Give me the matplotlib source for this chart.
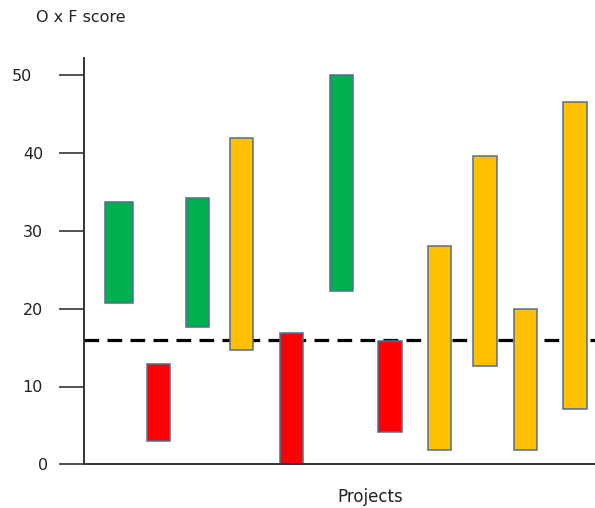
import matplotlib
matplotlib.use("Agg")
import matplotlib.pyplot as plt
from matplotlib.patches import Rectangle
from matplotlib.transforms import ScaledTranslation

# O x F score range (low .. high) per project, and its status colour
score_low = [20.7, 3.0, 17.7, 14.7, 0.0, 22.3, 4.2, 1.8, 12.6, 1.8, 7.1]
score_high = [33.7, 12.9, 34.2, 41.9, 16.9, 50.0, 15.8, 28.1, 39.6, 20.0, 46.6]
status = ["green", "red", "green", "amber", "red", "green",
          "red", "amber", "amber", "amber", "amber"]
threshold = 16.0
y_ticks = [0, 10, 20, 30, 40, 50]
y_tick_labels = ["0", "10", "20", "30", "40", "50"]

# layout: horizontal slot of each project along the axis, and bar widths
slot_x = [3.5, 7.47, 11.37, 15.73, 20.73, 25.73, 30.6, 35.55, 40.1, 44.13, 49.1]
slot_w = [2.8] + [2.35] * 10

status_colours = {"green": "#00B050", "red": "#FF0000", "amber": "#FFC000"}
edge_colour = "#4F6F90"

plt.rcParams["font.family"] = ["DejaVu Sans"]

fig = plt.figure(figsize=(5.95, 5.08), dpi=100)
ax = fig.add_axes([84 / 595, 43.7 / 508, 511 / 595, 406.6 / 508])
ax.set_xlim(0, 51.1)
ax.set_ylim(0, 406.6 / 7.78)

# threshold line behind the bars
ax.axhline(threshold, color="black", lw=2.3, ls=(0, (4.6, 2.6)), zorder=1)

for x, w, lo, hi, st in zip(slot_x, slot_w, score_low, score_high, status):
    ax.add_patch(Rectangle((x - w / 2, lo), w, hi - lo,
                           facecolor=status_colours[st], edgecolor=edge_colour,
                           lw=1.1, zorder=2))

for side in ("top", "right"):
    ax.spines[side].set_visible(False)
for side in ("left", "bottom"):
    ax.spines[side].set_color("#333333")
    ax.spines[side].set_linewidth(1.4)

ax.set_xticks([])
ax.set_yticks(y_ticks)
ax.set_yticklabels(y_tick_labels)
ax.tick_params(axis="y", direction="out", length=18, width=1.2,
               color="#333333", pad=11.5, labelsize=11.5, labelcolor="#222222")

# individual horizontal nudges of the value labels (pixels)
label_shift = {"50": -11, "0": 5}
for lab in ax.get_yticklabels():
    dx = label_shift.get(lab.get_text(), 0)
    if dx:
        lab.set_transform(lab.get_transform()
                          + ScaledTranslation(dx / 100, 0, fig.dpi_scale_trans))

fig.text(36 / 595, 1 - 18 / 508, "O x F score", ha="left", va="center",
         fontsize=11.5, color="#222222")
fig.text(370 / 595, 1 - 497 / 508, "Projects", ha="center", va="center",
         fontsize=12, color="#222222")

fig.savefig("out.png", dpi=100)
